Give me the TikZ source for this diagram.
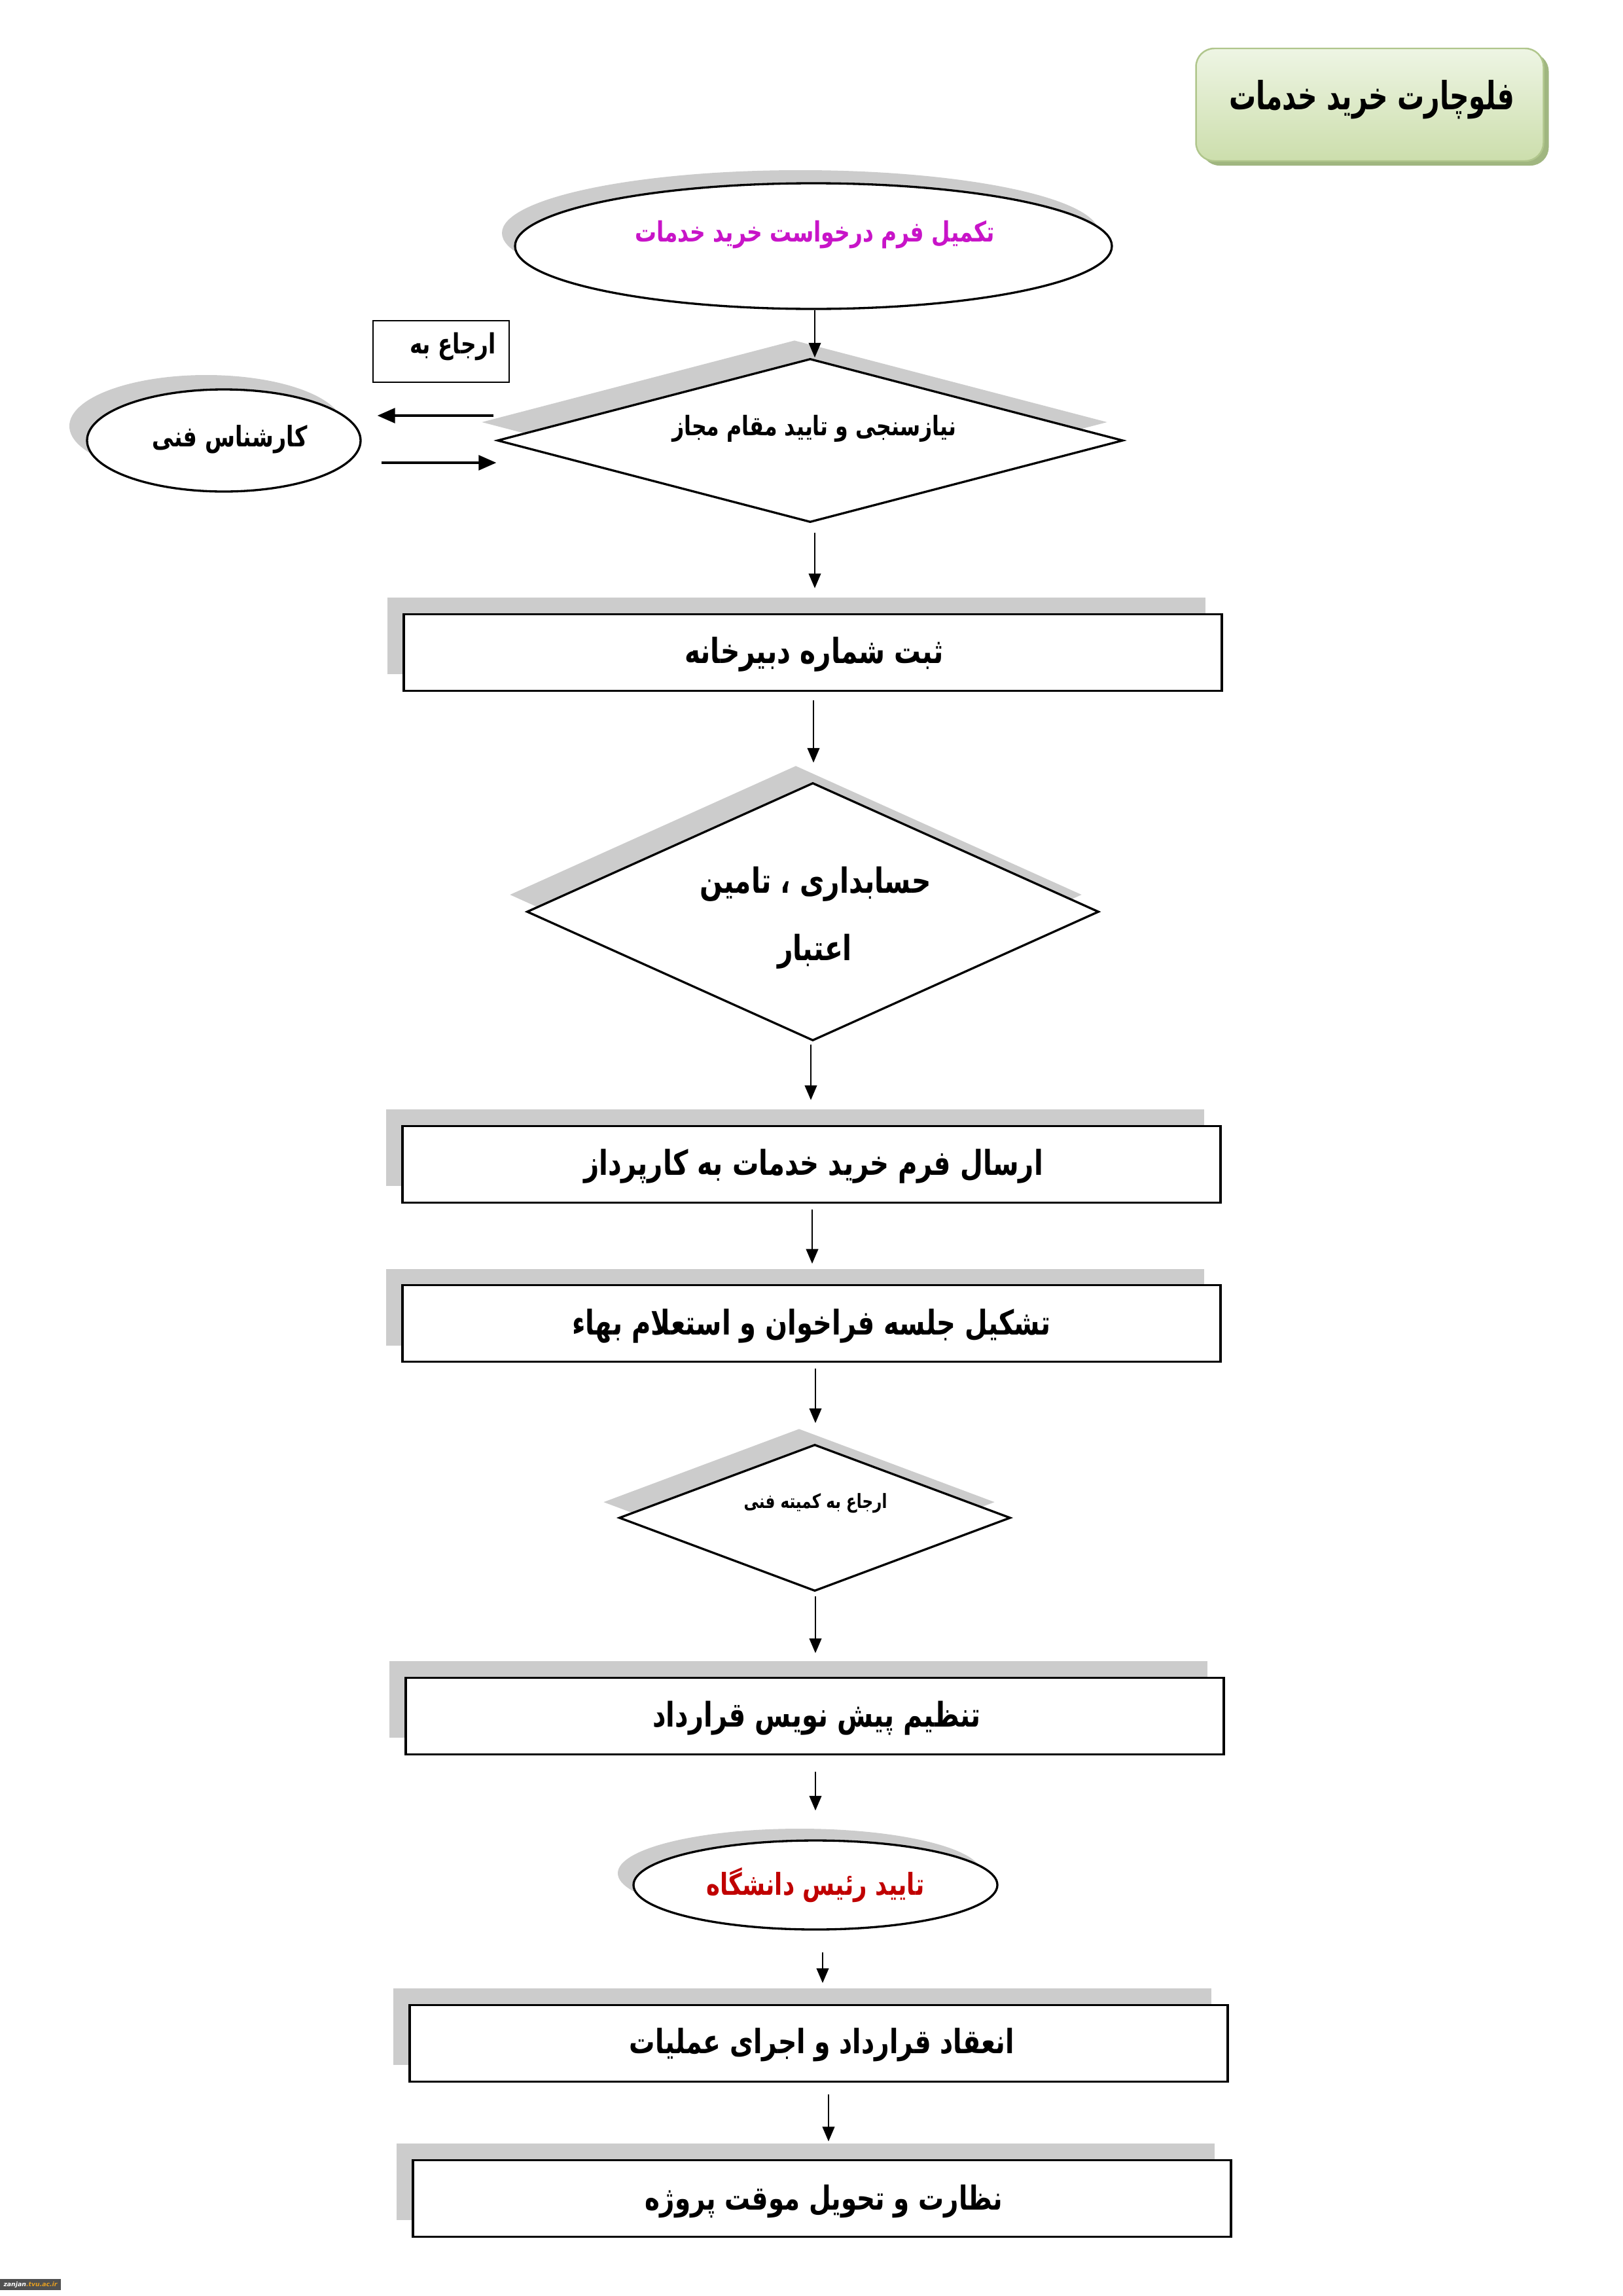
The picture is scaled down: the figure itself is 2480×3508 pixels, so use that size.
\documentclass[tikz,border=0pt]{standalone}
\usepackage{fontspec}
\usepackage{graphicx}
\setmainfont{DejaVu Sans}
\newfontfamily\arabicfont[Script=Arabic]{DejaVu Sans}
\TeXXeTstate=1
\usetikzlibrary{shapes.geometric,arrows.meta,calc}
\newlength\pxu
\setlength\pxu{0.084677mm}
\newcommand\fa[3][1.3]{\scalebox{1}[#1]{\resizebox{#2\pxu}{!}{\arabicfont\bfseries #3}}}
\definecolor{shadowgray}{RGB}{204,204,204}
\definecolor{magtext}{RGB}{200,20,200}
\definecolor{redtext}{RGB}{192,0,0}
\definecolor{titletop}{RGB}{238,245,228}
\definecolor{titlebot}{RGB}{204,222,172}
\definecolor{titleedge}{RGB}{176,198,140}
\definecolor{titlesh}{RGB}{160,182,128}
\definecolor{logogray}{RGB}{80,80,80}
\definecolor{logoorange}{RGB}{232,160,32}
\begin{document}
\begin{tikzpicture}[x=0.084677mm, y=-0.084677mm,
  box/.style={draw=black, line width=0.8pt, fill=white, minimum width=1250\pxu, minimum height=117\pxu, inner sep=0pt},
  boxsh/.style={fill=shadowgray, draw=none, minimum width=1250\pxu, minimum height=117\pxu, inner sep=0pt},
  ell/.style={ellipse, draw=black, line width=0.8pt, fill=white, inner sep=0pt},
  ellsh/.style={ellipse, fill=shadowgray, draw=none, inner sep=0pt},
  dia/.style={diamond, draw=black, line width=0.8pt, fill=white, inner sep=0pt},
  diash/.style={diamond, fill=shadowgray, draw=none, inner sep=0pt},
  txt/.style={inner sep=0pt},
  arr/.style={-{Triangle[length=5.4pt,width=4.4pt]}, line width=0.7pt},
  sidearr/.style={-{Triangle[length=6.5pt,width=5.5pt]}, line width=0.8pt},
]
\useasboundingbox (0,0) rectangle (2480,3508);
\fill[white] (0,0) rectangle (2480,3508);

% title
\node[rounded corners=28\pxu, fill=titlesh, minimum width=531\pxu, minimum height=172\pxu, inner sep=0pt] (titlesh) at (2101,167) {};
\node[rounded corners=28\pxu, top color=titletop, bottom color=titlebot, draw=titleedge, line width=0.6pt, minimum width=531\pxu, minimum height=172\pxu, inner sep=0pt] (title) at (2093,160) {};
\node[txt] (titlet) at (2096,152) {\fa[1.45]{436}{\beginR فلوچارت خرید خدمات\endR}};

% top ellipse
\node[ellsh, minimum width=912\pxu, minimum height=192\pxu] (e1s) at (1223,356) {};
\node[ell, minimum width=912\pxu, minimum height=192\pxu] (e1) at (1243,376) {};
\node[txt, text=magtext] (e1t) at (1245,358) {\fa{550}{\beginR تکمیل فرم درخواست خرید خدمات\endR}};

% refer box
\node[draw=black, line width=0.5pt, fill=white, minimum width=208\pxu, minimum height=94\pxu, inner sep=0pt] (ref) at (674,537) {};
\node[txt] (reft) at (692,530) {\fa{132}{\beginR ارجاع به\endR}};

% expert ellipse
\node[ellsh, minimum width=418\pxu, minimum height=156\pxu] (kes) at (315,651) {};
\node[ell, minimum width=418\pxu, minimum height=156\pxu] (ke) at (342,673) {};
\node[txt] (ket) at (351,671) {\fa{237}{\beginR کارشناس فنی\endR}};

% diamond 1
\node[diash, minimum width=956\pxu, minimum height=250\pxu] (d1s) at (1214,645) {};
\node[dia, minimum width=956\pxu, minimum height=250\pxu] (d1) at (1238,673) {};
\node[txt] (d1t) at (1244,655) {\fa{434}{\beginR نیازسنجی و تایید مقام مجاز\endR}};

% rect 1
\node[boxsh] (r1s) at (1217,971) {};
\node[box] (r1) at (1242,997) {};
\node[txt] (r1t) at (1244,1000) {\fa{396}{\beginR ثبت شماره دبیرخانه\endR}};

% diamond 2
\node[diash, minimum width=874\pxu, minimum height=394\pxu] (d2s) at (1216,1367) {};
\node[dia, minimum width=874\pxu, minimum height=394\pxu] (d2) at (1242,1393) {};
\node[txt] (d2t1) at (1246,1351) {\fa{353}{\beginR حسابداری ، تامین\endR}};
\node[txt] (d2t2) at (1245,1454) {\fa{114}{\beginR اعتبار\endR}};

% rect 2
\node[boxsh] (r2s) at (1215,1753) {};
\node[box] (r2) at (1240,1779) {};
\node[txt] (r2t) at (1243,1782) {\fa{702}{\beginR ارسال فرم خرید خدمات به کارپرداز\endR}};

% rect 3
\node[boxsh] (r3s) at (1215,1997) {};
\node[box] (r3) at (1240,2022) {};
\node[txt] (r3t) at (1240,2026) {\fa{731}{\beginR تشکیل جلسه فراخوان و استعلام بهاء\endR}};

% diamond 3
\node[diash, minimum width=598\pxu, minimum height=224\pxu] (d3s) at (1221,2295) {};
\node[dia, minimum width=598\pxu, minimum height=224\pxu] (d3) at (1245,2319) {};
\node[txt] (d3t) at (1246,2297) {\fa{219}{\beginR ارجاع به کمیته فنی\endR}};

% rect 4
\node[boxsh] (r4s) at (1220,2596) {};
\node[box] (r4) at (1245,2622) {};
\node[txt] (r4t) at (1248,2625) {\fa{501}{\beginR تنظیم پیش نویس قرارداد\endR}};

% ellipse 2
\node[ellsh, minimum width=556\pxu, minimum height=136\pxu] (e2s) at (1222,2862) {};
\node[ell, minimum width=556\pxu, minimum height=136\pxu] (e2) at (1246,2880) {};
\node[txt, text=redtext] (e2t) at (1246,2880) {\fa{333}{\beginR تایید رئیس دانشگاه\endR}};

% rect 5
\node[boxsh] (r5s) at (1226,3096) {};
\node[box] (r5) at (1251,3122) {};
\node[txt] (r5t) at (1256,3124) {\fa{588}{\beginR انعقاد قرارداد و اجرای عملیات\endR}};

% rect 6
\node[boxsh] (r6s) at (1231,3333) {};
\node[box] (r6) at (1256,3359) {};
\node[txt] (r6t) at (1259,3363) {\fa{546}{\beginR نظارت و تحویل موقت پروژه\endR}};

% logo
\node[fill=logogray, inner sep=0pt, minimum width=93\pxu, minimum height=17\pxu] (logo) at (46.5,3490.5) {\resizebox{82\pxu}{!}{\bfseries\itshape\textcolor{white}{zanjan}\textcolor{logoorange}{.tvu.ac.ir}}};

% connectors
\draw[arr] ([xshift=2\pxu]e1.south) -- ([xshift=2\pxu]e1.south |- d1.north);
\draw[arr, shorten <=14\pxu, shorten >=38\pxu] ([xshift=7\pxu]d1.south) -- ([xshift=7\pxu]d1.south |- r1.north);
\draw[arr, shorten <=13\pxu, shorten >=29\pxu] ([xshift=1\pxu]r1.south) -- ([xshift=1\pxu]r1.south |- d2.north);
\draw[arr, shorten <=4\pxu, shorten >=38\pxu] ([xshift=-3\pxu]d2.south) -- ([xshift=-3\pxu]d2.south |- r2.north);
\draw[arr, shorten <=9\pxu, shorten >=31\pxu] ([xshift=1\pxu]r2.south) -- ([xshift=1\pxu]r2.south |- r3.north);
\draw[arr, shorten <=9\pxu, shorten >=31\pxu] ([xshift=6\pxu]r3.south) -- ([xshift=6\pxu]r3.south |- d3.north);
\draw[arr, shorten <=6\pxu, shorten >=36\pxu] ([xshift=1\pxu]d3.south) -- ([xshift=1\pxu]d3.south |- r4.north);
\draw[arr, shorten <=25\pxu, shorten >=44\pxu] ([xshift=1\pxu]r4.south) -- ([xshift=1\pxu]r4.south |- e2.north);
\draw[arr, shorten <=33\pxu, shorten >=32\pxu] ([xshift=11\pxu]e2.south) -- ([xshift=11\pxu]e2.south |- r5.north);
\draw[arr, shorten <=18\pxu, shorten >=27\pxu] ([xshift=15\pxu]r5.south) -- ([xshift=15\pxu]r5.south |- r6.north);
% side arrows
\draw[sidearr, shorten <=4\pxu, shorten >=24\pxu] ([yshift=38\pxu]d1.west) -- ([yshift=38\pxu]d1.west -| ke.east);
\draw[sidearr, shorten <=30\pxu] ([yshift=-34\pxu]ke.east) -- ([yshift=-34\pxu]ke.east -| d1.west);
\end{tikzpicture}
\end{document}
